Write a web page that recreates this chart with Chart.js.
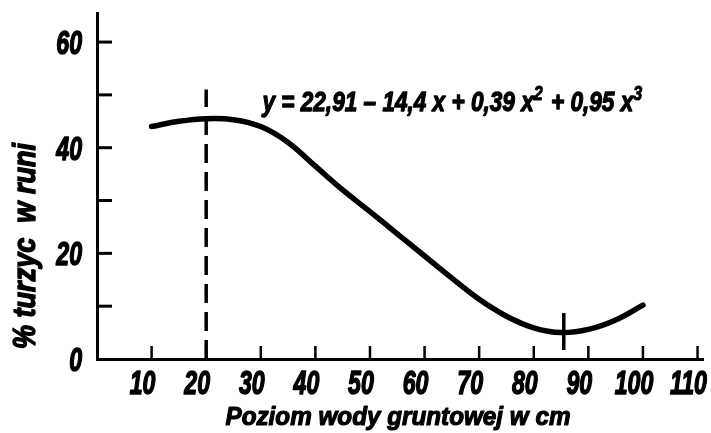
<!DOCTYPE html>
<html>
<head>
<meta charset="utf-8">
<script src="https://cdn.jsdelivr.net/npm/chart.js@4"></script>
<style>
  html, body { margin: 0; padding: 0; background: #fff; }
  #wrap { width: 711px; height: 433px; }
</style>
</head>
<body>
<div id="wrap"><canvas id="chart"></canvas></div>
<script>
// poziom wody gruntowej (cm) i udzial turzyc w runi (%)
const depth = [10, 15, 20, 25, 30, 35, 40, 45, 50, 55, 60, 65, 70, 75, 80, 85, 90, 95, 100];
const turzyce = [44.0, 45.0, 45.5, 45.3, 44.0, 41.0, 36.5, 32.0, 27.9, 23.7, 19.5, 15.3, 11.3, 8.1, 5.9, 5.0, 5.6, 7.4, 10.2];

// przerywana linia przy maksimum, kreska przy minimum
const peakX = [20, 20];
const peakY = [0, 51];
const minX = [85.5, 85.5];
const minY = [1.7, 8.7];

const xTicks = [10, 20, 30, 40, 50, 60, 70, 80, 90, 100, 110];
const yTicks = [10, 20, 30, 40, 50, 60];
const yLabels = [0, 20, 40, 60];

const xTitle = 'Poziom wody gruntowej w cm';
const yTitle = '% turzyc  w runi';
const eqParts = [['y = 22,91 – 14,4 x + 0,39 x', false], ['2', true], [' + 0,95 x', false], ['3', true]];

const FONT = '"Liberation Sans", Arial, sans-serif';
const INK = '#000';

// squeezed, heavy italic text, like the condensed lettering of the original
function squeezed(ctx, text, x, y, size, sx, align) {
  ctx.font = 'italic bold ' + size + 'px ' + FONT;
  const w = ctx.measureText(text).width * sx;
  let left = x;
  if (align === 'center') left = x - w / 2;
  if (align === 'right') left = x - w;
  ctx.save();
  ctx.translate(left, y);
  ctx.scale(sx, 1);
  ctx.textAlign = 'left';
  ctx.textBaseline = 'alphabetic';
  ctx.lineWidth = size / 22;
  ctx.lineJoin = 'round';
  ctx.fillText(text, 0, 0);
  ctx.strokeText(text, 0, 0);
  ctx.restore();
  return w;
}

function fitScale(ctx, text, size, target) {
  ctx.font = 'italic bold ' + size + 'px ' + FONT;
  return target / ctx.measureText(text).width;
}

const extras = {
  id: 'extras',
  afterDraw(chart) {
    const ctx = chart.ctx;
    const xs = chart.scales.x, ys = chart.scales.y;
    const area = chart.chartArea;
    ctx.save();
    ctx.strokeStyle = INK;
    ctx.fillStyle = INK;

    // inward tick marks
    ctx.lineWidth = 2.5;
    xTicks.forEach(v => {
      const px = xs.getPixelForValue(v);
      ctx.beginPath();
      ctx.moveTo(px, area.bottom);
      ctx.lineTo(px, area.bottom - 13);
      ctx.stroke();
    });
    ctx.lineWidth = 3;
    yTicks.forEach(v => {
      const py = ys.getPixelForValue(v);
      ctx.beginPath();
      ctx.moveTo(area.left, py);
      ctx.lineTo(area.left + 15, py);
      ctx.stroke();
    });

    // tick labels
    xTicks.forEach(v => {
      squeezed(ctx, String(v), xs.getPixelForValue(v) - 9, area.bottom + 35, 34, 0.68, 'center');
    });
    yLabels.forEach(v => {
      squeezed(ctx, String(v), area.left - 15, ys.getPixelForValue(v) + 12, 34, 0.68, 'right');
    });

    // x title
    const sxT = fitScale(ctx, xTitle, 26, 345);
    squeezed(ctx, xTitle, (area.left + area.right) / 2 - 2, 425, 26, sxT, 'center');

    // y title (rotated)
    ctx.save();
    ctx.translate(35, 246);
    ctx.rotate(-Math.PI / 2);
    const sxY = fitScale(ctx, yTitle, 31, 206);
    squeezed(ctx, yTitle, 0, 0, 31, sxY, 'center');
    ctx.restore();

    // equation
    let full = '';
    eqParts.forEach(([t]) => { full += t; });
    const sxE = fitScale(ctx, full, 28, 385);
    let x = xs.getPixelForValue(30.3);
    const base = ys.getPixelForValue(47);
    eqParts.forEach(([t, sup]) => {
      x += squeezed(ctx, t, x, sup ? base - 11 : base, sup ? 20 : 28, sxE, 'left') + (sup ? 2 : 0);
    });
    ctx.restore();
  }
};

new Chart(document.getElementById('chart'), {
  type: 'line',
  data: {
    datasets: [
      {
        data: depth.map((d, i) => ({ x: d, y: turzyce[i] })),
        borderColor: INK,
        borderWidth: 5.5,
        borderCapStyle: 'round',
        tension: 0.4,
        pointRadius: 0
      },
      {
        data: peakX.map((d, i) => ({ x: d, y: peakY[i] })),
        borderColor: INK,
        borderWidth: 3.5,
        borderDash: [19, 9],
        pointRadius: 0
      },
      {
        data: minX.map((d, i) => ({ x: d, y: minY[i] })),
        borderColor: INK,
        borderWidth: 3.5,
        pointRadius: 0
      }
    ]
  },
  options: {
    responsive: true,
    maintainAspectRatio: false,
    animation: false,
    layout: { padding: { left: 10, top: 13, right: 8, bottom: 0 } },
    plugins: {
      legend: { display: false },
      tooltip: { enabled: false }
    },
    scales: {
      x: {
        type: 'linear',
        min: 0,
        max: 111,
        afterFit: s => { s.height = 74; s.paddingLeft = 0; s.paddingRight = 0; },
        grid: { display: false, drawTicks: false },
        border: { color: INK, width: 3 },
        ticks: { display: false }
      },
      y: {
        min: 0,
        max: 65.5,
        afterFit: s => { s.width = 87; s.paddingTop = 0; s.paddingBottom = 0; },
        grid: { display: false, drawTicks: false },
        border: { color: INK, width: 3 },
        ticks: { display: false }
      }
    }
  },
  plugins: [extras]
});
</script>
</body>
</html>
